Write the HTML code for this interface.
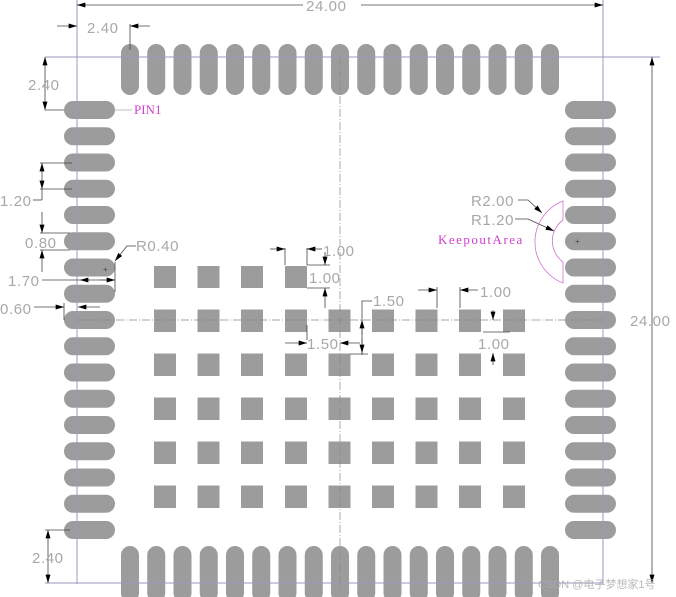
<!DOCTYPE html>
<html><head><meta charset="utf-8"><style>
html,body{margin:0;padding:0;background:#fff;width:676px;height:597px;overflow:hidden}
svg{display:block}
text{font-family:"Liberation Sans","Noto Sans CJK SC",sans-serif}
</style></head><body>
<svg width="676" height="597" viewBox="0 0 676 597" xmlns="http://www.w3.org/2000/svg">
<defs>
<marker id="a" viewBox="0 0 10 6" refX="10" refY="3" markerWidth="9" markerHeight="5" orient="auto-start-reverse" markerUnits="userSpaceOnUse"><path d="M0,0L10,3L0,6z" fill="#000"/></marker>
</defs>
<g fill="#9c9c9c">
<rect x="121" y="44" width="18" height="51" rx="9"/><rect x="147.25" y="44" width="18" height="51" rx="9"/><rect x="173.5" y="44" width="18" height="51" rx="9"/><rect x="199.75" y="44" width="18" height="51" rx="9"/><rect x="226" y="44" width="18" height="51" rx="9"/><rect x="252.25" y="44" width="18" height="51" rx="9"/><rect x="278.5" y="44" width="18" height="51" rx="9"/><rect x="304.75" y="44" width="18" height="51" rx="9"/><rect x="331" y="44" width="18" height="51" rx="9"/><rect x="357.25" y="44" width="18" height="51" rx="9"/><rect x="383.5" y="44" width="18" height="51" rx="9"/><rect x="409.75" y="44" width="18" height="51" rx="9"/><rect x="436" y="44" width="18" height="51" rx="9"/><rect x="462.25" y="44" width="18" height="51" rx="9"/><rect x="488.5" y="44" width="18" height="51" rx="9"/><rect x="514.75" y="44" width="18" height="51" rx="9"/><rect x="541" y="44" width="18" height="51" rx="9"/>
<rect x="121" y="546" width="18" height="56" rx="9"/><rect x="147.25" y="546" width="18" height="56" rx="9"/><rect x="173.5" y="546" width="18" height="56" rx="9"/><rect x="199.75" y="546" width="18" height="56" rx="9"/><rect x="226" y="546" width="18" height="56" rx="9"/><rect x="252.25" y="546" width="18" height="56" rx="9"/><rect x="278.5" y="546" width="18" height="56" rx="9"/><rect x="304.75" y="546" width="18" height="56" rx="9"/><rect x="331" y="546" width="18" height="56" rx="9"/><rect x="357.25" y="546" width="18" height="56" rx="9"/><rect x="383.5" y="546" width="18" height="56" rx="9"/><rect x="409.75" y="546" width="18" height="56" rx="9"/><rect x="436" y="546" width="18" height="56" rx="9"/><rect x="462.25" y="546" width="18" height="56" rx="9"/><rect x="488.5" y="546" width="18" height="56" rx="9"/><rect x="514.75" y="546" width="18" height="56" rx="9"/><rect x="541" y="546" width="18" height="56" rx="9"/>
<rect x="64" y="101" width="51" height="18" rx="9"/><rect x="64" y="127.25" width="51" height="18" rx="9"/><rect x="64" y="153.5" width="51" height="18" rx="9"/><rect x="64" y="179.75" width="51" height="18" rx="9"/><rect x="64" y="206" width="51" height="18" rx="9"/><rect x="64" y="232.25" width="51" height="18" rx="9"/><rect x="64" y="258.5" width="51" height="18" rx="9"/><rect x="64" y="284.75" width="51" height="18" rx="9"/><rect x="64" y="311" width="51" height="18" rx="9"/><rect x="64" y="337.25" width="51" height="18" rx="9"/><rect x="64" y="363.5" width="51" height="18" rx="9"/><rect x="64" y="389.75" width="51" height="18" rx="9"/><rect x="64" y="416" width="51" height="18" rx="9"/><rect x="64" y="442.25" width="51" height="18" rx="9"/><rect x="64" y="468.5" width="51" height="18" rx="9"/><rect x="64" y="494.75" width="51" height="18" rx="9"/><rect x="64" y="521" width="51" height="18" rx="9"/>
<rect x="565" y="101" width="51" height="18" rx="9"/><rect x="565" y="127.25" width="51" height="18" rx="9"/><rect x="565" y="153.5" width="51" height="18" rx="9"/><rect x="565" y="179.75" width="51" height="18" rx="9"/><rect x="565" y="206" width="51" height="18" rx="9"/><rect x="565" y="232.25" width="51" height="18" rx="9"/><rect x="565" y="258.5" width="51" height="18" rx="9"/><rect x="565" y="284.75" width="51" height="18" rx="9"/><rect x="565" y="311" width="51" height="18" rx="9"/><rect x="565" y="337.25" width="51" height="18" rx="9"/><rect x="565" y="363.5" width="51" height="18" rx="9"/><rect x="565" y="389.75" width="51" height="18" rx="9"/><rect x="565" y="416" width="51" height="18" rx="9"/><rect x="565" y="442.25" width="51" height="18" rx="9"/><rect x="565" y="468.5" width="51" height="18" rx="9"/><rect x="565" y="494.75" width="51" height="18" rx="9"/><rect x="565" y="521" width="51" height="18" rx="9"/>
<rect x="154" y="266" width="22" height="22"/><rect x="197.5" y="266" width="22" height="22"/><rect x="241" y="266" width="22" height="22"/><rect x="285" y="266" width="22" height="22"/>
</g>
<g fill="#9c9c9c">
<g id="row"><rect x="154" y="309.5" width="22" height="22.5"/><rect x="197.5" y="309.5" width="22" height="22.5"/><rect x="241" y="309.5" width="22" height="22.5"/><rect x="285" y="309.5" width="22" height="22.5"/><rect x="328.5" y="309.5" width="22" height="22.5"/><rect x="372" y="309.5" width="22" height="22.5"/><rect x="415.5" y="309.5" width="22" height="22.5"/><rect x="459" y="309.5" width="22" height="22.5"/><rect x="503" y="309.5" width="22" height="22.5"/></g>
<use href="#row" y="44"/><use href="#row" y="88"/><use href="#row" y="132"/><use href="#row" y="176"/>
</g>
<g stroke="#9a9ac0" stroke-width="1" fill="none">
<line x1="77" y1="0" x2="77" y2="584"/><line x1="603" y1="0" x2="603" y2="584"/>
<line x1="45" y1="57" x2="603" y2="57"/><line x1="45" y1="583" x2="603" y2="583"/>
<line x1="603" y1="57" x2="660" y2="57"/>
</g>
<g stroke="#888" stroke-width="0.7" stroke-dasharray="8,2,1,2" fill="none">
<line x1="340" y1="57" x2="340" y2="590"/><line x1="77" y1="320" x2="603" y2="320"/>
</g>
<g stroke="#444" stroke-width="0.8" fill="none">
<line x1="77" y1="5" x2="603" y2="5" marker-start="url(#a)" marker-end="url(#a)"/>
<line x1="652" y1="57" x2="652" y2="583" marker-start="url(#a)" marker-end="url(#a)"/>
<line x1="57" y1="26" x2="77" y2="26" marker-end="url(#a)"/><line x1="150" y1="26" x2="130" y2="26" marker-end="url(#a)"/><line x1="130" y1="24" x2="130" y2="50"/>
<line x1="45" y1="57" x2="45" y2="110" marker-start="url(#a)" marker-end="url(#a)"/><line x1="45" y1="110" x2="64" y2="110"/>
<line x1="40" y1="163" x2="72" y2="163"/><line x1="40" y1="189" x2="72" y2="189"/><line x1="42" y1="163" x2="42" y2="189" marker-start="url(#a)" marker-end="url(#a)"/><line x1="42" y1="189" x2="42" y2="200"/><line x1="33" y1="200" x2="42" y2="200"/>
<line x1="40" y1="233" x2="70" y2="233"/><line x1="40" y1="250" x2="70" y2="250"/><line x1="42" y1="212" x2="42" y2="233" marker-end="url(#a)"/><line x1="42" y1="272" x2="42" y2="250" marker-end="url(#a)"/>
<line x1="42" y1="280" x2="115" y2="280"/><line x1="80" y1="280" x2="90" y2="280" marker-start="url(#a)"/><line x1="100" y1="280" x2="115" y2="280" marker-end="url(#a)"/><line x1="115" y1="262" x2="115" y2="292"/>
<line x1="34" y1="307" x2="64" y2="307" marker-end="url(#a)"/><line x1="64" y1="303" x2="64" y2="320"/><line x1="100" y1="307" x2="78" y2="307" marker-end="url(#a)"/>
<polyline points="136,246 127,246 115,261" marker-end="url(#a)"/>
<line x1="115" y1="110" x2="132" y2="110" stroke="#aaa"/>
<line x1="48" y1="530" x2="48" y2="583" marker-start="url(#a)" marker-end="url(#a)"/><line x1="45" y1="530" x2="70" y2="530"/>
<line x1="285" y1="248" x2="285" y2="265"/><line x1="307" y1="248" x2="307" y2="265"/><line x1="270" y1="249" x2="285" y2="249" marker-end="url(#a)"/><line x1="322" y1="249" x2="307" y2="249" marker-end="url(#a)"/>
<line x1="307" y1="265" x2="330" y2="265"/><line x1="307" y1="288" x2="330" y2="288"/><line x1="325" y1="252" x2="325" y2="265" marker-end="url(#a)"/><line x1="325" y1="308" x2="325" y2="288" marker-end="url(#a)"/>
<polyline points="372,301 362,301 362,355"/><line x1="362" y1="335" x2="362" y2="320" marker-end="url(#a)"/><line x1="362" y1="338" x2="362" y2="353" marker-end="url(#a)"/><line x1="350" y1="354" x2="368" y2="354"/>
<line x1="285" y1="343" x2="307" y2="343" marker-end="url(#a)"/><line x1="360" y1="343" x2="340" y2="343" marker-end="url(#a)"/><line x1="307" y1="325" x2="307" y2="340"/>
<line x1="437" y1="287" x2="437" y2="308"/><line x1="460" y1="287" x2="460" y2="308"/><line x1="418" y1="290" x2="437" y2="290" marker-end="url(#a)"/><line x1="478" y1="290" x2="460" y2="290" marker-end="url(#a)"/>
<line x1="493" y1="310" x2="493" y2="320" marker-end="url(#a)"/><line x1="483" y1="332" x2="510" y2="332"/><line x1="493" y1="365" x2="493" y2="353" marker-end="url(#a)"/>
<polyline points="518,200 528,200 542,213" marker-end="url(#a)"/>
<polyline points="515,219 528,219 554,231" marker-end="url(#a)"/>
</g>
<path d="M563,201 A44,44 0 0 0 563,283 L563,262 A26,26 0 0 1 563,220 Z" fill="none" stroke="#d070d0" stroke-width="0.8"/>
<text x="575" y="244" font-size="8" fill="#444">+</text>
<text x="103" y="272" font-size="8" fill="#444">+</text>
<g fill="#a8a8a8" font-size="15" letter-spacing="0.6">
<rect x="303" y="0" width="58" height="12" fill="#fff"/>
<text x="306" y="11">24.00</text>
<text x="87" y="33">2.40</text>
<text x="28" y="90">2.40</text>
<text x="0" y="206">1.20</text>
<text x="25" y="248">0.80</text>
<text x="136" y="251">R0.40</text>
<text x="8" y="286">1.70</text>
<text x="0" y="314">0.60</text>
<text x="323" y="256">1.00</text>
<text x="309" y="283">1.00</text>
<text x="373" y="306">1.50</text>
<text x="307" y="349">1.50</text>
<text x="480" y="297">1.00</text>
<text x="478" y="349">1.00</text>
<text x="471" y="206">R2.00</text>
<text x="471" y="225">R1.20</text>
<text x="630" y="326">24.00</text>
<text x="32" y="563">2.40</text>
</g>
<g fill="#d040d0" font-size="13">
<text x="134" y="114" style="font-family:'Liberation Serif',serif">PIN1</text>
<text x="438" y="244" letter-spacing="1.5" style="font-family:'Liberation Serif',serif">KeepoutArea</text>
</g>
<text x="538" y="588" font-size="11" fill="#aaa" opacity="0.8">CSDN @电子梦想家1号</text>
</svg>
</body></html>
